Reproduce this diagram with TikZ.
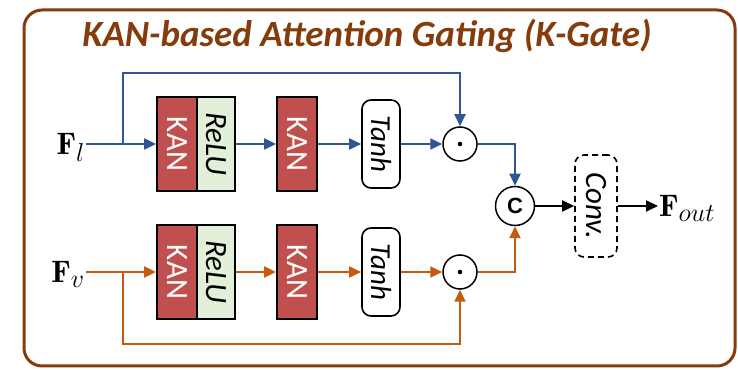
\documentclass[tikz,border=0pt]{standalone}
\usepackage{fontspec}
\usepackage{graphicx}
\newfontfamily\cali{Carlito}
\newfontfamily\arialf{Liberation Sans}
\usetikzlibrary{arrows.meta}

\definecolor{brunK}{HTML}{843C0C}
\definecolor{rougeK}{HTML}{C0504D}
\definecolor{vertK}{HTML}{E2F0D9}
\definecolor{bleuK}{HTML}{2F5597}
\definecolor{orangeK}{HTML}{C55A11}

\newcommand{\vtxt}[1]{\rotatebox{-90}{#1}}
\newcommand{\feat}[1]{\scalebox{1.25}{$\mathbf{F}_{#1}$}}

\tikzset{
  kanbox/.style={draw, line width=1.8pt, fill=rougeK, text=white, minimum width=40pt,
    minimum height=94pt, inner sep=0pt, font=\cali\fontsize{31}{31}\selectfont},
  relubox/.style={kanbox, fill=vertK, text=black, minimum width=38pt,
    font=\cali\itshape\fontsize{31}{31}\selectfont},
  tanhbox/.style={draw, line width=1.6pt, rounded corners=9pt, minimum width=38pt,
    minimum height=88pt, inner sep=0pt, font=\cali\itshape\fontsize{29}{29}\selectfont},
  produit/.style={circle, draw, line width=1.5pt, minimum size=34pt, inner sep=0pt},
  fleche/.style={line width=1.8pt, -{Triangle[length=12pt,width=11pt]}},
  lbl/.style={font=\fontsize{24.88}{30}\selectfont, text depth=0pt, inner sep=1pt},
}

\begin{document}
\begin{tikzpicture}[x=1pt,y=1pt]
\useasboundingbox (0,0) rectangle (738,369);

% cadre extérieur et titre
\draw[brunK, line width=3pt, rounded corners=18pt] (24,3) rectangle (735,359);
\node[text=brunK, font=\cali\bfseries\itshape\fontsize{37}{38}\selectfont, anchor=base]
  (titre) at (367,322) {KAN-based Attention Gating (K-Gate)};

% deux branches : l en haut, v en bas
\foreach \y/\s/\col/\dy/\n/\a in {225/l/bleuK/71/h/north, 97/v/orangeK/-72/b/south} {
  \node[lbl, anchor=east] (F-\n) at (86,\y) {\feat{\s}};
  \node[kanbox] (kanA-\n) at (177,\y) {\vtxt{KAN}};
  \node[relubox] (relu-\n) at (216,\y) {\vtxt{ReLU}};
  \node[kanbox] (kanB-\n) at (297,\y) {\vtxt{KAN}};
  \node[tanhbox] (tanh-\n) at (381,\y) {\vtxt{Tanh}};
  \node[produit] (prod-\n) at (460,\y) {};
  \fill (prod-\n) circle (2.3pt);
  \coordinate (saut-\n) at (123,\y);

  \draw[fleche, color=\col] (F-\n.east) -- (kanA-\n.west);
  \draw[fleche, color=\col] (relu-\n.east) -- (kanB-\n.west);
  \draw[fleche, color=\col] (kanB-\n.east) -- (tanh-\n.west);
  \draw[fleche, color=\col] (tanh-\n.east) -- (prod-\n.west);
  % connexion résiduelle
  \draw[fleche, color=\col] (saut-\n) -- ++(0,\dy) -| (prod-\n.\a);
}

% concaténation, conv et sortie
\node[circle, draw, line width=1.5pt, minimum size=39pt, inner sep=0pt,
  font=\arialf\bfseries\fontsize{22}{22}\selectfont] (cat) at (515,163) {C};
\node[draw, line width=1.6pt, dash pattern=on 6pt off 4pt, rounded corners=9pt,
  minimum width=42pt, minimum height=102pt, inner sep=0pt,
  font=\cali\itshape\fontsize{31}{31}\selectfont] (conv) at (596,163) {\vtxt{Conv.}};
\node[lbl, anchor=west] (Fout) at (658,163) {\feat{out}};

\draw[fleche, bleuK] (prod-h.east) -| (cat.north);
\draw[fleche, orangeK] (prod-b.east) -| (cat.south);
\draw[fleche] (cat.east) -- (conv.west);
\draw[fleche] (conv.east) -- (Fout.west);
\end{tikzpicture}
\end{document}
